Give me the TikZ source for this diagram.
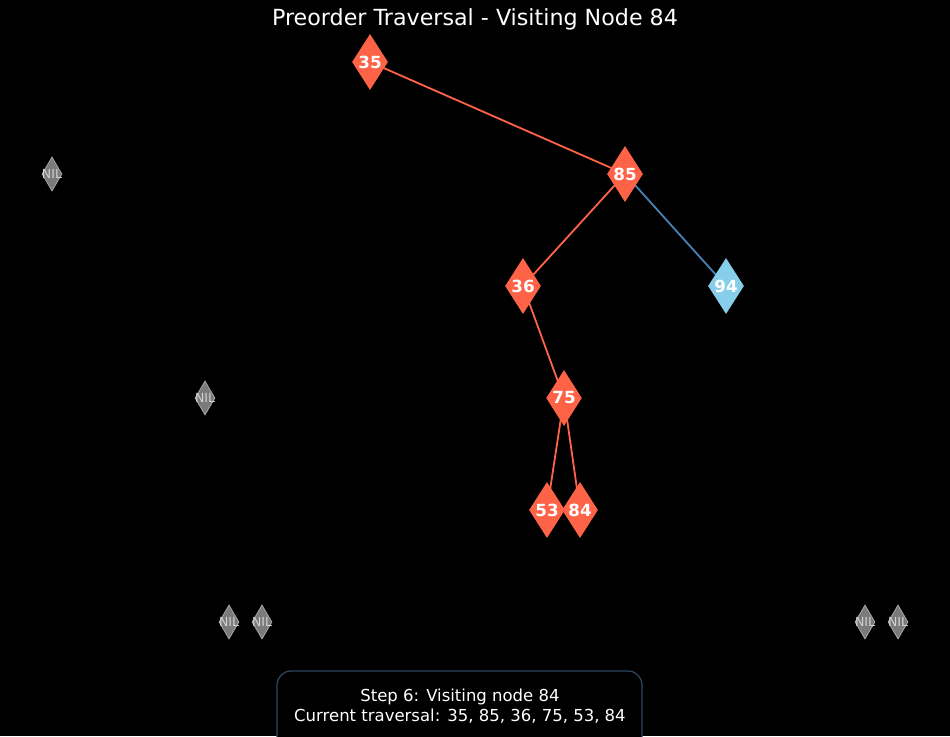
\documentclass[tikz,border=0pt]{standalone}
\usepackage{fontspec}
\setmainfont{DejaVu Sans}
\usetikzlibrary{shapes.geometric}
\definecolor{tomatoc}{HTML}{FF6347}
\definecolor{skyc}{HTML}{87CEEB}
\definecolor{steelc}{HTML}{4682B4}
\definecolor{nilfill}{HTML}{7A7A7A}
\definecolor{nilline}{HTML}{A8A8A8}
\definecolor{niltext}{HTML}{D3D3D3}
\definecolor{boxline}{HTML}{2E4560}
\tikzset{
  tnode/.style={diamond,inner sep=0pt,minimum width=34pt,minimum height=56pt,fill=tomatoc,text=white,font=\fontsize{16.7}{16.7}\selectfont\bfseries},
  snode/.style={tnode,fill=skyc},
  nilnode/.style={diamond,inner sep=0pt,minimum width=20pt,minimum height=34pt,fill=nilfill,draw=nilline,line width=0.8pt},
  niltxt/.style={text=niltext,font=\fontsize{12.5}{12.5}\selectfont,inner sep=0pt},
  tedge/.style={draw=tomatoc,line width=1.8pt},
  sedge/.style={draw=steelc,line width=1.8pt},
}
\begin{document}
\begin{tikzpicture}[x=1pt,y=-1pt]
\fill[black] (0,0) rectangle (950,736);
\useasboundingbox (0,0) rectangle (950,736);
\node[text=white,font=\fontsize{22.2}{22.2}\selectfont] (title) at (475,19) {Preorder Traversal - Visiting Node 84};
% coordinates for nodes
\coordinate (p35) at (370,62);
\coordinate (p85) at (625,174);
\coordinate (p36) at (523,286);
\coordinate (p94) at (726,286);
\coordinate (p75) at (564,398);
\coordinate (p53) at (547,510);
\coordinate (p84) at (580,510);
% edges
\draw[tedge] (p35) -- (p85);
\draw[tedge] (p85) -- (p36);
\draw[sedge] (p85) -- (p94);
\draw[tedge] (p36) -- (p75);
\draw[tedge] (p75) -- (p53);
\draw[tedge] (p75) -- (p84);
% nodes
\node[tnode] (n35) at (p35) {35};
\node[tnode] (n85) at (p85) {85};
\node[tnode] (n36) at (p36) {36};
\node[snode] (n94) at (p94) {94};
\node[tnode] (n75) at (p75) {75};
\node[tnode] (n53) at (p53) {53};
\node[tnode] (n84) at (p84) {84};
% NIL nodes
\foreach \i/\x/\y in {1/52/174,2/205/398,3/229/622,4/262/622,5/865/622,6/898/622}{
  \node[nilnode] (nil\i) at (\x,\y) {};
  \node[niltxt] (nilt\i) at (\x,\y) {NIL};
}
% info box
\draw[boxline,line width=1.3pt,fill=black,rounded corners=14pt] (277,671) rectangle (642,760);
\node[text=white,font=\fontsize{16.5}{20}\selectfont,align=center] (info) at (460,706) {Step 6: Visiting node 84\\Current traversal: 35, 85, 36, 75, 53, 84};
\end{tikzpicture}
\end{document}
